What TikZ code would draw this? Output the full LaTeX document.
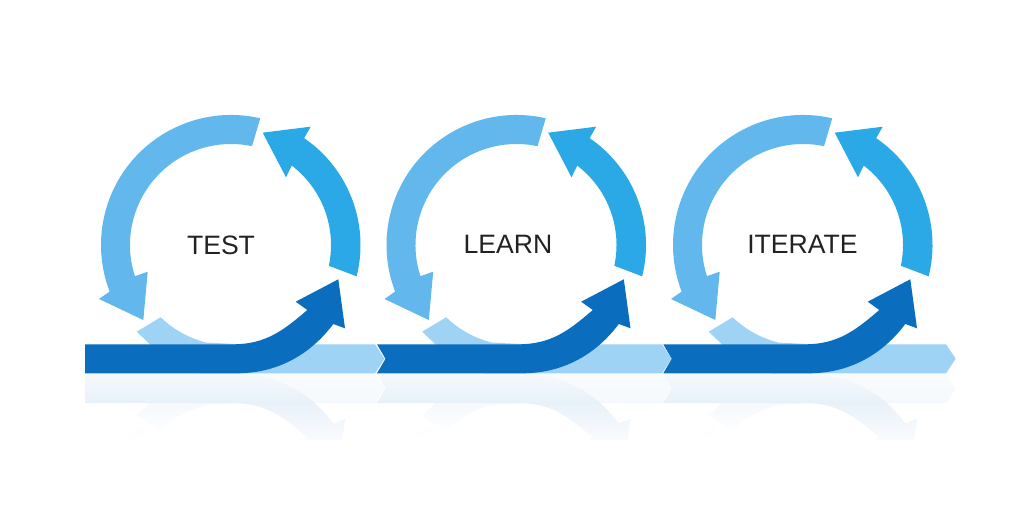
\documentclass[tikz,border=0pt]{standalone}
\usepackage{fontspec}
\setmainfont{Liberation Sans}
\definecolor{arcLight}{HTML}{62B8EC}
\definecolor{arcMid}{HTML}{2AA9E6}
\definecolor{arrowDark}{HTML}{0A6DBD}
\definecolor{bandPale}{HTML}{9FD3F5}
\definecolor{reflA}{HTML}{F6F9FD}
\definecolor{reflB}{HTML}{E8F1F9}
\definecolor{reflC}{HTML}{F9FBFE}
\definecolor{reflD}{HTML}{F8FCFE}
\definecolor{reflE}{HTML}{EFF5FB}
\definecolor{labelInk}{HTML}{222222}
\tikzset{
  ringpos/.style={shift={(231,260)}},
  mirrorpos/.style={yshift=262.6pt,yscale=-1},
  steplabel/.style={inner sep=0pt,font=\fontsize{26.6}{30}\selectfont,text=labelInk}
}
\def\pathLightArrow{(77:130pt) arc[start angle=77,end angle=201,radius=130pt] -- (-132,-54) -- (-87.7,-75) -- (-83.3,-26.7) -- (198:101pt) arc[start angle=198,end angle=78,radius=101pt] -- cycle}
\def\pathMidArrow{(-14:129.5pt) arc[start angle=-14,end angle=55.6,radius=129.5pt] -- (79.7,118.3) -- (31.7,112.3) -- (55,67.7) -- (52.6:100pt) arc[start angle=52.6,end angle=-12,radius=100pt] -- cycle}
\def\pathBand#1#2{(136.7,173.3) -- (160.7,187.7) arc[start angle=226,end angle=256,radius=100.5pt] -- (240,160.7) -- (#1,160.7) -- (#2,146.2) -- (#1,131.7) -- (200,131.7) -- (150,160.7) -- cycle}
\def\pathDark#1#2{(#1,160.7) -- (#2,146.2) -- (#1,131.7) -- (237,131.7) .. controls (277,131.7) and (310,150) .. (333.3,181) -- (345,176.7) -- (338.3,225.7) -- (295.7,203.3) -- (307.3,195) .. controls (284,175) and (266,160.7) .. (233,160.7) -- cycle}
\begin{document}
\begin{tikzpicture}[x=1pt,y=1pt]
\useasboundingbox (0,0) rectangle (1024,505);
\fill[white] (0,0) rectangle (1024,505);
\foreach \off/\bandTop/\bandTip/\darkL/\darkN in {0/375/384.5/85/85,285.5/376.5/385.8/91.5/100,572/374/383.7/91.3/99.7}{
  \begin{scope}[xshift=\off pt]
    % reflection
    \begin{scope}
      \clip[mirrorpos,ringpos] \pathLightArrow;
      \shade[top color=reflC,bottom color=white] (80,90) rectangle (160,65);
    \end{scope}
    \begin{scope}
      \clip[mirrorpos] \pathBand{\bandTop}{\bandTip};
      \shade[top color=reflD,bottom color=reflE!60!white] (120,131) rectangle (390,103);
      \shade[top color=reflE!60!white,bottom color=white] (120,103) rectangle (390,65);
    \end{scope}
    \begin{scope}
      \clip[mirrorpos] \pathDark{\darkL}{\darkN};
      \shade[top color=reflA,bottom color=reflB] (80,131) rectangle (350,103);
      \shade[top color=reflB,bottom color=reflC] (80,103) rectangle (350,65);
    \end{scope}
    % artwork
    \fill[bandPale] \pathBand{\bandTop}{\bandTip};
    \fill[arrowDark] \pathDark{\darkL}{\darkN};
    \fill[arcLight,ringpos] \pathLightArrow;
    \fill[arcMid,ringpos] \pathMidArrow;
  \end{scope}
}
\node[steplabel] (test) at (221,260) {TEST};
\node[steplabel] (learn) at (508,261) {LEARN};
\node[steplabel] (iterate) at (802.5,261) {ITERATE};
\end{tikzpicture}
\end{document}
